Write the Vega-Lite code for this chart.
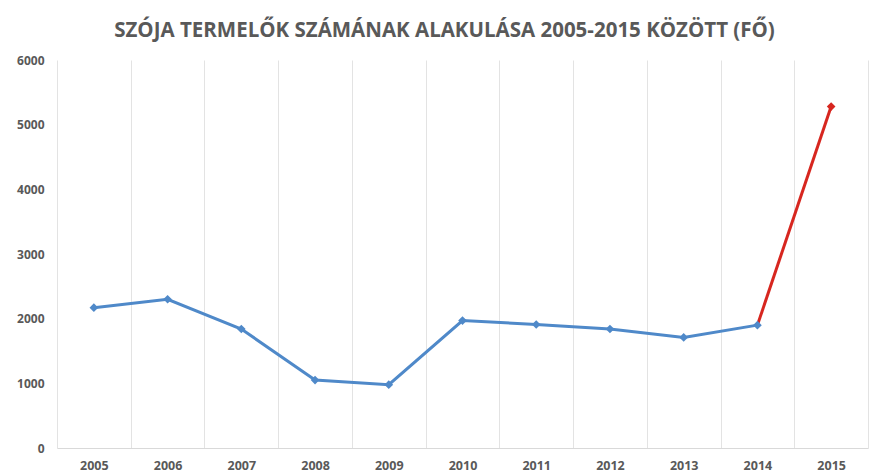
{
  "$schema": "https://vega.github.io/schema/vega-lite/v6.json",
  "autosize": {"type": "none"},
  "width": 811,
  "height": 388,
  "padding": {"left": 57, "top": 60, "right": 1, "bottom": 28},
  "background": "white",
  "title": {
    "text": "SZÓJA TERMELŐK SZÁMÁNAK ALAKULÁSA 2005-2015 KÖZÖTT (FŐ)",
    "font": "Open Sans",
    "fontWeight": "bold",
    "fontSize": 20.5,
    "color": "#595959",
    "anchor": "middle",
    "dx": -18,
    "offset": 13
  },
  "data": {
    "values": [
      {"year": "2005", "value": 2170},
      {"year": "2006", "value": 2300},
      {"year": "2007", "value": 1840},
      {"year": "2008", "value": 1050},
      {"year": "2009", "value": 980},
      {"year": "2010", "value": 1970},
      {"year": "2011", "value": 1910},
      {"year": "2012", "value": 1840},
      {"year": "2013", "value": 1710},
      {"year": "2014", "value": 1900},
      {"year": "2015", "value": 5280}
    ]
  },
  "config": {
    "view": {"stroke": null},
    "axis": {
      "labelFont": "Open Sans",
      "labelFontWeight": "bold",
      "labelFontSize": 12,
      "labelColor": "#595959",
      "title": null
    }
  },
  "encoding": {
    "x": {
      "field": "year",
      "type": "ordinal",
      "bandPosition": 0.5,
      "scale": {"type": "band", "paddingInner": 0, "paddingOuter": 0},
      "axis": {
        "labelAngle": 0,
        "labelFontSize": 12.5,
        "tickBand": "extent",
        "ticks": false,
        "grid": true,
        "gridColor": "#e3e3e3",
        "gridWidth": 1,
        "domain": true,
        "domainColor": "#d9d9d9",
        "labelPadding": 11
      }
    },
    "y": {
      "field": "value",
      "type": "quantitative",
      "scale": {"domain": [0, 6000]},
      "axis": {
        "values": [0, 1000, 2000, 3000, 4000, 5000, 6000],
        "format": "d",
        "grid": false,
        "ticks": false,
        "domain": false,
        "labelPadding": 13
      }
    }
  },
  "layer": [
    {
      "transform": [{"filter": "toNumber(datum.year) <= 2014"}],
      "mark": {"type": "line", "color": "#4F89C9", "strokeWidth": 3}
    },
    {
      "transform": [{"filter": "toNumber(datum.year) >= 2014"}],
      "mark": {"type": "line", "color": "#D7261F", "strokeWidth": 3}
    },
    {
      "mark": {"type": "point", "shape": "diamond", "filled": true, "size": 75, "opacity": 1},
      "encoding": {
        "color": {
          "condition": {"test": "datum.year == '2015'", "value": "#D7261F"},
          "value": "#4F89C9"
        }
      }
    }
  ]
}
